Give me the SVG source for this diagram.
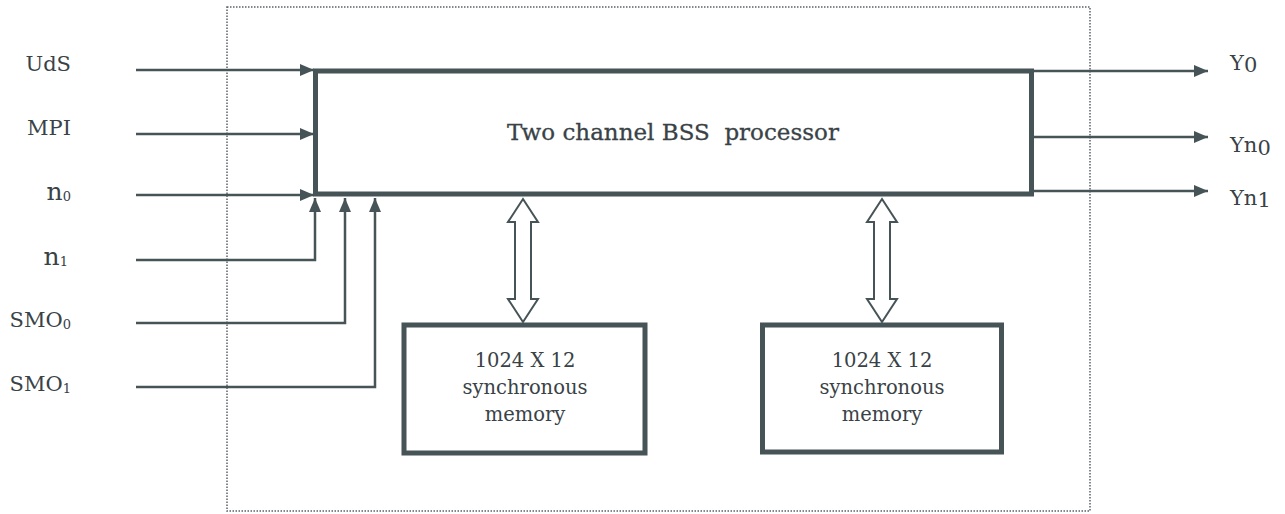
<svg xmlns="http://www.w3.org/2000/svg" width="1285" height="514" viewBox="0 0 1285 514">
<style>
text{font-family:"DejaVu Serif","Liberation Serif",serif;fill:#394246}
.lbl{font-size:21px;text-anchor:end}
.out{font-size:21px}
.mem{font-size:19.5px;text-anchor:middle}
.title{font-size:23px;text-anchor:middle;white-space:pre;stroke:#394246;stroke-width:0.3}
.box{fill:none;stroke:#465357;stroke-width:5}
.wire{fill:none;stroke:#465357;stroke-width:2.5}
.bus{fill:#fff;stroke:#465357;stroke-width:2}
</style>
<defs>
<marker id="ah" markerUnits="userSpaceOnUse" markerWidth="14" markerHeight="12" refX="14" refY="6" orient="auto">
<path d="M0,0 L14,6 L0,12 z" fill="#465357"/>
</marker>
</defs>
<rect x="227" y="7" width="863" height="504" fill="none" stroke="#5a6165" stroke-width="1.5" stroke-dasharray="1.5 1.5"/>
<g id="processor">
<rect class="box" x="315.5" y="71" width="716" height="123"/>
<text class="title" x="673" y="140" xml:space="preserve">Two channel BSS  processor</text>
</g>
<g id="memory1">
<rect class="box" x="404" y="325" width="241" height="128"/>
<text class="mem" x="525" y="367">1024 X 12</text>
<text class="mem" x="525" y="394">synchronous</text>
<text class="mem" x="525" y="421">memory</text>
</g>
<g id="memory2">
<rect class="box" x="762.5" y="325" width="239" height="127"/>
<text class="mem" x="882" y="367">1024 X 12</text>
<text class="mem" x="882" y="394">synchronous</text>
<text class="mem" x="882" y="421">memory</text>
</g>
<g id="labels">
<text class="lbl" x="71" y="71">UdS</text>
<text class="lbl" x="71" y="135">MPI</text>
<text class="lbl" x="71" y="200"><tspan font-size="25">n</tspan><tspan font-size="13" dy="1">0</tspan></text>
<text class="lbl" x="68" y="265"><tspan font-size="25">n</tspan><tspan font-size="13" dy="1">1</tspan></text>
<text class="lbl" x="71" y="327">SMO<tspan font-size="13" dy="2">0</tspan></text>
<text class="lbl" x="71" y="391">SMO<tspan font-size="13" dy="2">1</tspan></text>
<text class="out" x="1230" y="70">Y<tspan dy="2">0</tspan></text>
<text class="out" x="1230" y="152">Yn<tspan dy="3">0</tspan></text>
<text class="out" x="1230" y="205">Yn<tspan dy="2">1</tspan></text>
</g>
<g id="connectors">
<line class="wire" x1="136" y1="70" x2="314" y2="70" marker-end="url(#ah)"/>
<line class="wire" x1="136" y1="134" x2="314" y2="134" marker-end="url(#ah)"/>
<line class="wire" x1="136" y1="195" x2="314" y2="195" marker-end="url(#ah)"/>
<polyline class="wire" points="136,260 315,260 315,198" marker-end="url(#ah)"/>
<polyline class="wire" points="136,323 345,323 345,198" marker-end="url(#ah)"/>
<polyline class="wire" points="136,387 375,387 375,198" marker-end="url(#ah)"/>
<line class="wire" x1="1032" y1="71" x2="1208" y2="71" marker-end="url(#ah)"/>
<line class="wire" x1="1032" y1="137" x2="1208" y2="137" marker-end="url(#ah)"/>
<line class="wire" x1="1032" y1="191" x2="1208" y2="191" marker-end="url(#ah)"/>
<polygon class="bus" points="523,199 538,222 531,222 531,299 538,299 523,322 508,299 515,299 515,222 508,222"/>
<polygon class="bus" points="882,199 897,222 890,222 890,299 897,299 882,322 867,299 874,299 874,222 867,222"/>
</g>
</svg>
